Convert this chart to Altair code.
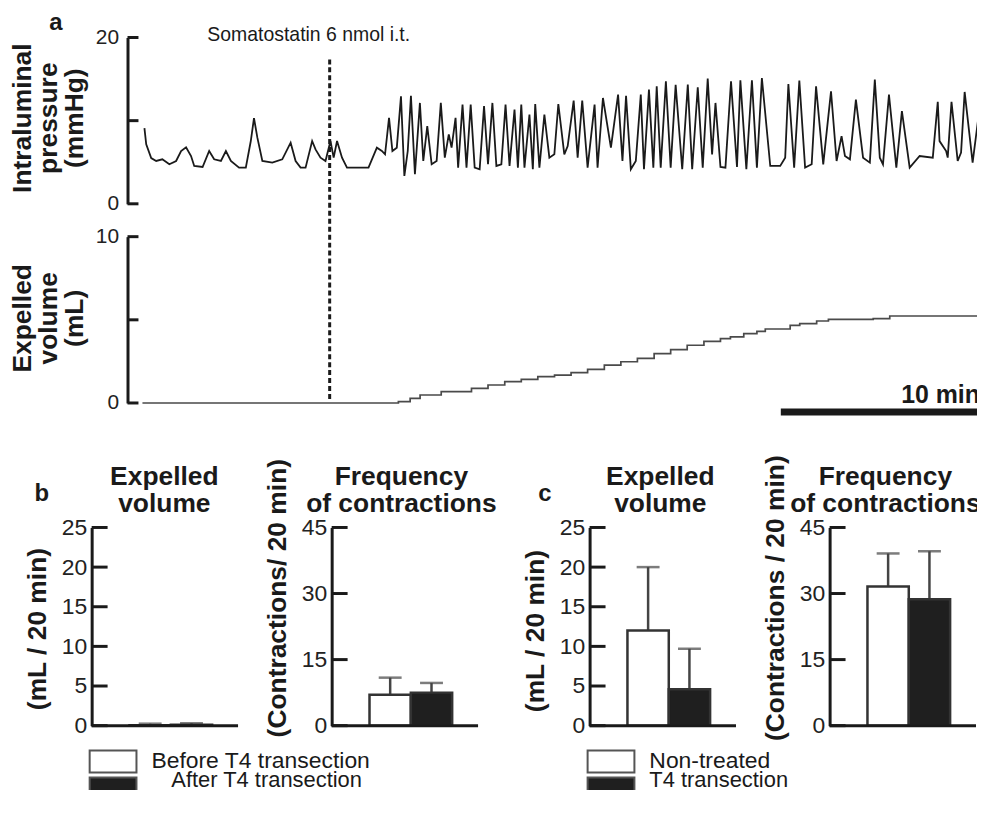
import altair as alt
import pandas as pd

# ---------------- panel a : traces (time in minutes) ----------------
p_time = [0.85, 0.94, 1.19, 1.44, 1.75, 2.10, 2.44, 2.69, 2.94, 3.19, 3.35, 3.77, 4.10, 4.35, 4.69,
          4.94, 5.19, 5.60, 5.94, 6.19, 6.35, 6.52, 6.77, 7.27, 7.77, 8.19, 8.44, 8.69, 8.94, 9.27,
          9.44, 9.69, 9.94, 10.19, 10.35, 10.52, 10.77, 11.02, 12.10, 12.52, 12.77,
          12.93, 13.13, 13.30, 13.52, 13.73, 13.90, 14.07, 14.23, 14.43, 14.68, 14.85, 15.05, 15.27,
          15.52, 15.73, 15.93, 16.13, 16.27, 16.47, 16.60, 16.82, 17.02, 17.23, 17.43, 17.68, 17.90,
          18.10, 18.32, 18.52, 18.77, 18.98, 19.18, 19.43, 19.60, 19.77, 19.93, 20.18, 20.35, 20.47,
          20.68, 20.93, 21.18, 21.43, 21.63, 21.93, 22.10, 22.40, 22.60, 22.83, 23.10, 23.45, 23.60,
          23.87, 24.27, 24.63, 24.85, 25.03, 25.27, 25.52, 25.77, 25.93, 26.18, 26.40, 26.57, 26.77,
          27.03, 27.27, 27.52, 27.85, 28.13, 28.35, 28.63, 28.88, 29.13, 29.35, 29.52, 29.77, 30.02,
          30.30, 30.60, 30.77, 31.07, 31.35, 31.60, 31.85, 32.27, 32.77, 33.02, 33.18, 33.47, 33.73,
          34.02, 34.35, 34.57, 34.93, 35.32, 35.60, 35.85, 36.02, 36.27, 36.57, 36.93, 37.27, 37.52,
          37.77, 37.93, 38.23, 38.60, 38.88, 39.27, 39.77, 40.43, 40.68, 40.77, 41.10, 41.18, 41.37,
          41.68, 41.85, 42.03, 42.43, 42.77]
p_mmhg = [9.1, 7.15, 5.5, 5.15, 5.35, 4.75, 5.15, 6.35, 6.8, 5.75, 4.55, 4.43, 6.35, 5.35, 5.15,
          6.35, 5.15, 4.35, 4.35, 7.55, 10.3, 7.95, 5.15, 4.95, 5.35, 7.35, 5.15, 4.35, 4.35, 7.55,
          6.55, 5.55, 5.15, 7.55, 5.55, 7.55, 5.55, 4.35, 4.35, 6.75, 6.35,
          5.95, 10.34, 6.35, 6.75, 12.93, 3.35, 6.35, 13.0, 3.55, 12.13, 5.15, 9.34, 4.75,
          5.15, 12.13, 5.55, 8.35, 6.75, 10.34, 4.35, 11.93, 4.35, 11.93, 4.35, 4.15, 11.74,
          4.75, 12.13, 4.55, 4.75, 11.93, 4.55, 11.34, 4.35, 11.93, 4.35, 10.74, 4.15, 12.0,
          4.35, 10.74, 5.55, 5.95, 12.0, 5.95, 6.95, 12.42, 5.55, 12.42, 4.35, 11.93, 4.35,
          12.73, 6.75, 13.13, 5.15, 13.0, 4.15, 5.15, 13.13, 4.15, 13.73, 4.35, 14.13, 4.35,
          14.73, 4.35, 14.3, 4.15, 14.33, 4.15, 14.01, 4.35, 15.05, 5.95, 12.13, 4.43, 4.35,
          14.73, 4.43, 14.85, 4.15, 14.85, 4.35, 15.13, 4.55, 4.55, 5.55, 14.41, 4.35, 14.81,
          4.35, 4.75, 14.13, 4.75, 13.53, 5.15, 8.14, 5.75, 5.35, 12.53, 5.55, 4.95, 14.93,
          5.55, 4.75, 13.13, 4.35, 11.14, 4.35, 5.75, 5.55, 12.26, 7.54, 6.35, 5.55, 12.26,
          5.15, 6.15, 13.45, 4.95, 11.34]

v_time = [0.75, 13.6, 14.19, 14.69, 15.75, 17.27, 18.1, 18.94, 19.77, 20.6, 21.44, 22.27, 23.1,
          23.94, 24.77, 25.6, 26.44, 27.27, 28.1, 28.94, 29.77, 30.27, 30.94, 31.6, 32.02, 33.27,
          33.75, 34.6, 35.19, 37.44, 38.27, 42.8]
v_ml = [0.0, 0.08, 0.28, 0.48, 0.68, 0.88, 1.08, 1.28, 1.42, 1.58, 1.68, 1.82, 2.02,
        2.28, 2.48, 2.68, 2.97, 3.21, 3.47, 3.71, 3.87, 3.97, 4.17, 4.3, 4.45, 4.67,
        4.77, 4.93, 5.03, 5.07, 5.23, 5.27]

somatostatin_time = [10.15]
scale_bar_min = [32.8, 42.8]

pressure_ticks = [0, 10, 20]
volume_ticks = [0, 5, 10]

# ---------------- panels b and c : bars ----------------
groups_b = ["Before T4 transection", "After T4 transection"]
groups_c = ["Non-treated", "T4 transection"]
b_vol_mean = [0.05, 0.1]
b_vol_upper = [0.25, 0.3]
b_freq_mean = [7.0, 7.5]
b_freq_upper = [10.9, 9.7]
c_vol_mean = [12.0, 4.6]
c_vol_upper = [20.0, 9.7]
c_freq_mean = [31.6, 28.7]
c_freq_upper = [39.1, 39.6]
vol_ticks = [0, 5, 10, 15, 20, 25]
freq_ticks = [0, 15, 30, 45]

INK = "#1a1a1a"
FONT = "Liberation Sans"
one = pd.DataFrame({"k": [0]})


def label(text, x, y, size, bold=False, angle=0, align="center", baseline="alphabetic", line_height=None):
    kw = dict(fontSize=size, font=FONT, fontWeight="bold" if bold else "normal", color=INK,
              align=align, baseline=baseline)
    if angle:
        kw["angle"] = angle
    if line_height:
        kw["lineHeight"] = line_height
    return alt.Chart(one).mark_text(**kw).encode(x=alt.value(x), y=alt.value(y), text=alt.value(text))


def yaxis(values, pad, size, hide_mid=False, offset=0):
    kw = dict(values=values, ticks=False, title=None, grid=False, domainWidth=3, domainColor=INK,
              labelFontSize=size, labelFont=FONT, labelColor="#222", labelPadding=pad)
    if offset:
        kw["offset"] = offset
    if hide_mid:
        kw["labelExpr"] = "datum.value == %s ? '' : datum.label" % values[1]
    return alt.Axis(**kw)


xscale = alt.Scale(domain=[-1.8, 42.8], nice=False, zero=False)
W_TOP, H_TOP = 892, 167
TT = 26.5  # title font size

# pressure
pdf = pd.DataFrame({"t": p_time, "p": p_mmhg})
pscale = alt.Scale(domain=[0, 20], nice=False)
p_axis = yaxis(pressure_ticks, 9, 21, True, -36)
p_line = alt.Chart(pdf).mark_line(color=INK, strokeWidth=1.8).encode(
    x=alt.X("t:Q", scale=xscale, axis=None),
    y=alt.Y("p:Q", scale=pscale, axis=p_axis),
)
p_tick = alt.Chart(pd.DataFrame({"p": pressure_ticks})).mark_rule(color=INK, strokeWidth=3).encode(
    y=alt.Y("p:Q", scale=pscale, axis=p_axis), x=alt.value(36), x2=alt.value(47))
dash = alt.Chart(pd.DataFrame({"t": somatostatin_time})).mark_rule(
    color=INK, strokeWidth=3, strokeDash=[5, 3]).encode(
    x=alt.X("t:Q", scale=xscale, axis=None), y=alt.value(22), y2=alt.value(366))
pressure = alt.layer(
    p_line, p_tick, dash,
    label("Somatostatin 6 nmol i.t.", 218, -2, 19.5, baseline="middle"),
    label("a", -36, -8, 24, bold=True),
    label(["Intraluminal", "pressure", "(mmHg)"], -61, 81, TT, bold=True, angle=270, line_height=26),
).properties(width=W_TOP, height=H_TOP)

# expelled volume trace
vdf = pd.DataFrame({"t": v_time, "v": v_ml})
vscale = alt.Scale(domain=[0, 10], nice=False)
v_axis = yaxis(volume_ticks, 9, 21, True, -36)
v_line = alt.Chart(vdf).mark_line(color="#4a4a4a", strokeWidth=1.7, interpolate="step-after").encode(
    x=alt.X("t:Q", scale=xscale, axis=None),
    y=alt.Y("v:Q", scale=vscale, axis=v_axis),
)
v_tick = alt.Chart(pd.DataFrame({"v": volume_ticks})).mark_rule(color=INK, strokeWidth=3).encode(
    y=alt.Y("v:Q", scale=vscale, axis=v_axis), x=alt.value(36), x2=alt.value(47))
bar_df = pd.DataFrame({"s": [scale_bar_min[0]], "e": [scale_bar_min[1]]})
sbar = alt.Chart(bar_df).mark_rule(color=INK, strokeWidth=7).encode(
    x=alt.X("s:Q", scale=xscale, axis=None), x2="e:Q", y=alt.value(176))
volume = alt.layer(
    v_line, v_tick, sbar,
    label("10 min", W_TOP, 167, 25, bold=True, align="right"),
    label(["Expelled", "volume", "(mL)"], -61, 82, TT, bold=True, angle=270, line_height=26),
).properties(width=W_TOP, height=H_TOP)

top = alt.vconcat(pressure, volume, spacing=33, bounds="flush")

# bars
W_B, H_B = 146, 199


def bar_panel(groups, means, uppers, ymax, ticks, title, title_x, ytitle, ytitle_y,
              letter=None, legend=None, extra_w=0, left_pad=False):
    width = W_B + extra_w
    df = pd.DataFrame({"g": groups, "m": means, "u": uppers})
    ys = alt.Scale(domain=[0, ymax], nice=False)
    ax = yaxis(ticks, 5, 23)
    free = width - 83.0
    pad_outer = (width / 41.5 - 2) / 2
    xs = alt.X("g:N", sort=groups,
               scale=alt.Scale(domain=groups, paddingInner=0, paddingOuter=pad_outer, align=38.0 / free),
               axis=None)
    base = alt.Chart(pd.DataFrame({"m": [0]})).mark_rule(color=INK, strokeWidth=3).encode(
        y=alt.Y("m:Q", scale=ys, axis=ax), x=alt.value(0), x2=alt.value(W_B + 1))
    err = alt.Chart(df).mark_rule(color="#444", strokeWidth=2.5).encode(
        x=xs, y=alt.Y("m:Q", scale=ys, axis=ax), y2="u:Q")
    cap = alt.Chart(df).mark_tick(color="#444", size=23, thickness=2.5).encode(
        x=xs, y=alt.Y("u:Q", scale=ys, axis=ax))
    bars = alt.Chart(df).mark_bar(stroke="#333", strokeWidth=2.5).encode(
        x=xs, y=alt.Y("m:Q", scale=ys, axis=ax),
        fill=alt.condition(alt.datum.g == groups[0], alt.value("white"), alt.value("#1f1f1f")))
    tk = alt.Chart(pd.DataFrame({"m": ticks})).mark_rule(color=INK, strokeWidth=3).encode(
        y=alt.Y("m:Q", scale=ys, axis=ax), x=alt.value(0), x2=alt.value(16))
    layers = [err, cap, bars, base, tk,
              label(title, title_x, -43, TT, bold=True, line_height=27),
              label(ytitle, -46, ytitle_y, TT, bold=True, angle=270)]
    if letter:
        layers.append(label(letter[0], letter[1], -27, 24, bold=True))
    if left_pad:
        layers.append(alt.Chart(one).mark_rule(strokeOpacity=0, strokeWidth=1).encode(
            x=alt.value(-81.5), y=alt.value(100), y2=alt.value(101)))
    if legend:
        names, txt_x = legend
        layers += [
            alt.Chart(one).mark_rect(fill="white", stroke="#555", strokeWidth=2).encode(
                x=alt.value(-2), x2=alt.value(45), y=alt.value(224), y2=alt.value(246)),
            alt.Chart(one).mark_rect(fill="#1f1f1f", stroke="#555", strokeWidth=2).encode(
                x=alt.value(-2), x2=alt.value(45), y=alt.value(251), y2=alt.value(290)),
            label(names[0], txt_x[0], 235, 23, align="left", baseline="middle"),
            label(names[1], txt_x[1], 261, 22, align="left"),
        ]
    return alt.layer(*layers).properties(width=width, height=H_B)


b_vol = bar_panel(groups_b, b_vol_mean, b_vol_upper, 25, vol_ticks, ["Expelled", "volume"], 73,
                  "(mL / 20 min)", 102, letter=("b", -50), legend=(groups_b, (60, 80)), left_pad=True)
b_freq = bar_panel(groups_b, b_freq_mean, b_freq_upper, 45, freq_ticks,
                   ["Frequency", "of contractions"], 70, "(Contractions/ 20 min)", 71, extra_w=18)
c_vol = bar_panel(groups_c, c_vol_mean, c_vol_upper, 25, vol_ticks, ["Expelled", "volume"], 71,
                  "(mL / 20 min)", 104, letter=("c", -45), legend=(groups_c, (60, 60)))
c_freq = bar_panel(groups_c, c_freq_mean, c_freq_upper, 45, freq_ticks,
                   ["Frequency", "of contractions"], 56, "(Contractions / 20 min)", 71)

bottom = alt.hconcat(b_vol, b_freq, c_vol, c_freq, spacing=95, bounds="flush")

chart = alt.vconcat(top, bottom, spacing=39).properties(
    padding={"left": 2, "top": 1, "right": -7, "bottom": -29}
).configure(font=FONT, background="white").configure_view(stroke=None)

chart.save("out.html", embed_options={"renderer": "svg", "actions": False})
